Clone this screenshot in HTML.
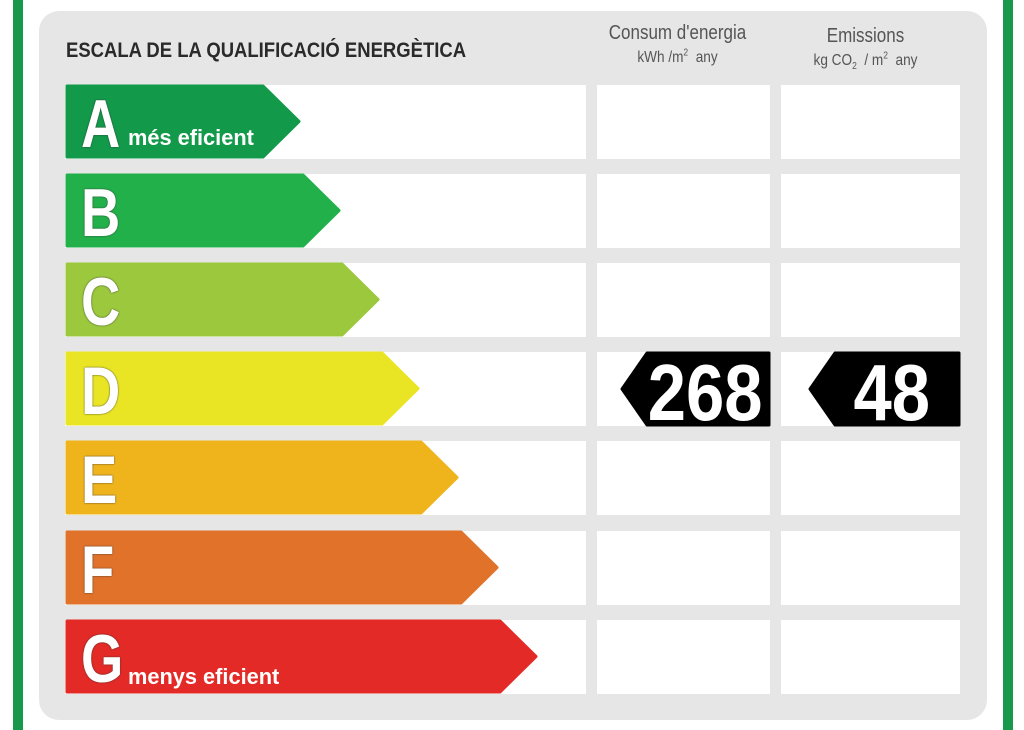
<!DOCTYPE html>
<html><head><meta charset="utf-8"><style>
body{margin:0;width:1024px;height:730px;background:#fff;position:relative;overflow:hidden;font-family:"Liberation Sans",sans-serif}
.gl{position:absolute;top:0;height:730px;background:#17984a}
.panel{position:absolute;left:39px;top:11px;width:948px;height:709px;background:#e6e6e6;border-radius:20px}
.box{position:absolute;background:#fff;height:74px}
.title{position:absolute;left:66px;top:39px;font-weight:bold;font-size:21px;color:#2a2a2a;transform:scaleX(0.88);transform-origin:left top;white-space:nowrap}
.hdr{position:absolute;color:#555;text-align:center;font-size:20px;transform:scaleX(0.85)}
.hdr small{font-size:16px}
.let{position:absolute;color:#fff;font-weight:bold;font-size:68px;transform:scaleX(0.8);transform-origin:left top;text-shadow:0 0 2px #333}
.sub{position:absolute;color:#fff;font-weight:bold;font-size:22px;transform:scaleX(0.99);transform-origin:left top;white-space:nowrap}
.num{position:absolute;color:#fff;font-weight:bold;font-size:80px;transform:scaleX(0.86);transform-origin:right top;text-align:right;line-height:92px}
</style></head><body>
<div class="gl" style="left:13px;width:10px"></div>
<div class="gl" style="left:1003px;width:10px"></div>
<div class="panel"></div>
<div class="title">ESCALA DE LA QUALIFICACIÓ ENERGÈTICA</div>
<div class="hdr" style="left:585px;top:22px;width:185px">Consum d'energia<br><small>kWh /m<sup style="font-size:10px">2</sup>&nbsp; any</small></div>
<div class="hdr" style="left:773px;top:25px;width:185px">Emissions<br><small>kg CO<sub style="font-size:10px">2</sub> &nbsp;/ m<sup style="font-size:10px">2</sup>&nbsp; any</small></div>

<div class="box" style="left:65px;top:85px;width:521px"></div><div class="box" style="left:597px;top:85px;width:173px"></div><div class="box" style="left:781px;top:85px;width:179px"></div>
<div class="box" style="left:65px;top:174px;width:521px"></div><div class="box" style="left:597px;top:174px;width:173px"></div><div class="box" style="left:781px;top:174px;width:179px"></div>
<div class="box" style="left:65px;top:263px;width:521px"></div><div class="box" style="left:597px;top:263px;width:173px"></div><div class="box" style="left:781px;top:263px;width:179px"></div>
<div class="box" style="left:65px;top:352px;width:521px"></div><div class="box" style="left:597px;top:352px;width:173px"></div><div class="box" style="left:781px;top:352px;width:179px"></div>
<div class="box" style="left:65px;top:441px;width:521px"></div><div class="box" style="left:597px;top:441px;width:173px"></div><div class="box" style="left:781px;top:441px;width:179px"></div>
<div class="box" style="left:65px;top:531px;width:521px"></div><div class="box" style="left:597px;top:531px;width:173px"></div><div class="box" style="left:781px;top:531px;width:179px"></div>
<div class="box" style="left:65px;top:620px;width:521px"></div><div class="box" style="left:597px;top:620px;width:173px"></div><div class="box" style="left:781px;top:620px;width:179px"></div>

<svg width="1024" height="730" style="position:absolute;left:0;top:0">
<g stroke-linejoin="round" stroke-width="3">
<polygon points="67,86 263,86 299,121.5 263,157 67,157" fill="#12994a" stroke="#12994a"/>
<polygon points="67,175 303,175 339,210.5 303,246 67,246" fill="#22b04b" stroke="#22b04b"/>
<polygon points="67,264 342,264 378,299.5 342,335 67,335" fill="#9bc83c" stroke="#9bc83c"/>
<polygon points="67,353 382,353 418,388.5 382,424 67,424" fill="#e9e524" stroke="#e9e524"/>
<polygon points="67,442 421,442 457,477.5 421,513 67,513" fill="#efb41c" stroke="#efb41c"/>
<polygon points="67,532 461,532 497,567.5 461,603 67,603" fill="#e0722a" stroke="#e0722a"/>
<polygon points="67,621 500,621 536,656.5 500,692 67,692" fill="#e32a26" stroke="#e32a26"/>
<polygon points="647,353 769,353 769,425 647,425 622,389" fill="#000" stroke="#000"/>
<polygon points="835,353 959,353 959,425 835,425 810,389" fill="#000" stroke="#000"/>
</g></svg>

<div class="let" style="left:81px;top:85px">A</div><div class="sub" style="left:128px;top:125px">més eficient</div>
<div class="let" style="left:81px;top:174px">B</div>
<div class="let" style="left:81px;top:263px">C</div>
<div class="let" style="left:81px;top:352px">D</div>
<div class="let" style="left:81px;top:441px">E</div>
<div class="let" style="left:81px;top:531px">F</div>
<div class="let" style="left:81px;top:620px">G</div><div class="sub" style="left:128px;top:664px">menys eficient</div>
<div class="num" style="right:262px;top:347px">268</div>
<div class="num" style="right:94px;top:347px">48</div>
</body></html>
